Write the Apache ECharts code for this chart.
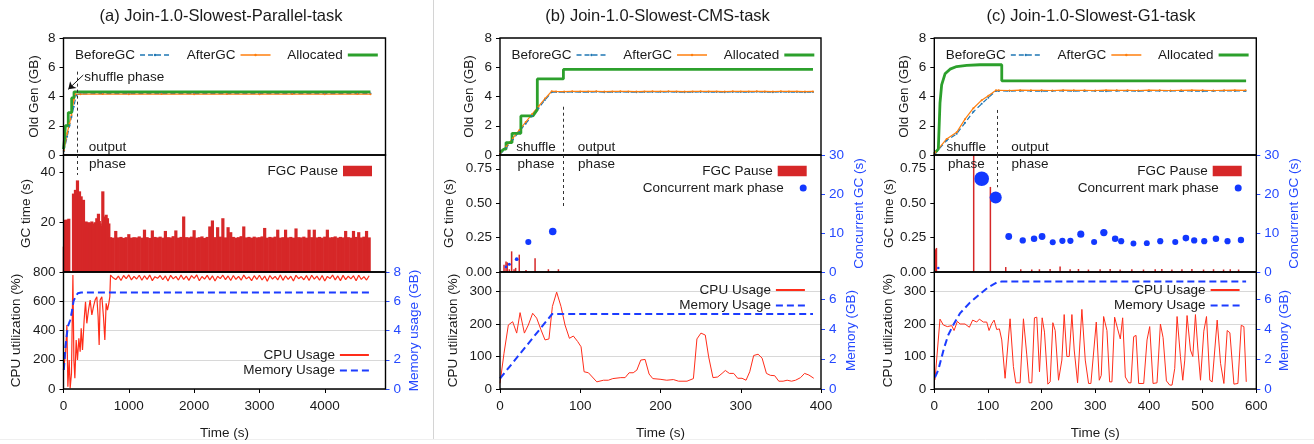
<!DOCTYPE html>
<html><head><meta charset="utf-8">
<script src="https://cdn.jsdelivr.net/npm/echarts@6/dist/echarts.min.js"></script>
<style>html,body{margin:0;padding:0;background:#fff}#c{width:1314px;height:444px}</style>
</head><body><div id="c"></div>
<script>
// ---------------- DATA ----------------
const TITLES = ['(a) Join-1.0-Slowest-Parallel-task', '(b) Join-1.0-Slowest-CMS-task', '(c) Join-1.0-Slowest-G1-task'];

// Panel (a) — Parallel
const A_X_TICKS = [0, 1000, 2000, 3000, 4000];
const A_BEFORE_T = [5, 56, 92, 122, 158, 195, 260, 600, 1000, 1500, 2000, 2500, 3000, 3500, 4000, 4500, 4700];
const A_BEFORE_V = [0.25, 1.25, 2.0, 2.6, 3.3, 4.1, 4.18, 4.2, 4.19, 4.2, 4.2, 4.19, 4.2, 4.2, 4.19, 4.2, 4.2];
const A_AFTER_T = [5, 56, 92, 122, 158, 184, 260, 600, 1000, 1500, 2000, 2500, 3000, 3500, 4000, 4500, 4700];
const A_AFTER_V = [0.3, 1.48, 2.17, 2.74, 3.77, 4.15, 4.16, 4.17, 4.16, 4.17, 4.16, 4.17, 4.16, 4.17, 4.16, 4.17, 4.16];
const A_ALLOC_T = [0, 20, 28, 28, 73, 73, 125, 125, 161, 161, 4700];
const A_ALLOC_V = [0.4, 1.3, 1.3, 2.0, 2.0, 2.9, 2.9, 3.9, 3.9, 4.32, 4.32];
const A_FGC_EARLY_T = [5, 26, 56, 81, 153, 183, 214, 245, 270, 306, 331, 346, 362, 382, 395, 408, 420, 433, 446, 459, 472, 484, 497, 510, 522, 535, 548, 561, 580, 602, 622, 640, 653, 673, 694];
const A_FGC_EARLY_V = [10.2, 21, 21, 21.4, 31.5, 33, 36.8, 32.4, 30.4, 29, 17, 20.3, 18, 20, 17.5, 19.7, 19, 20.3, 18.5, 19.5, 17, 20, 19.5, 21.6, 18, 23.4, 20.5, 19.5, 18.5, 32.4, 22.3, 20, 23, 21.6, 19.5];
const A_FGC_LATE_START = 720, A_FGC_LATE_STEP = 40;
const A_FGC_LATE_V = [14.0,13.8,16.5,13.9,14.1,13.7,14.0,15.2,13.8,14.0, 13.9,14.3,13.8,17.0,14.0,13.7,16.7,14.1,13.9,14.2,
  13.8,16.5,14.0,13.9,14.4,16.7,13.8,14.1,22.3,14.0, 13.9,14.2,16.8,13.8,14.0,14.3,13.7,14.1,18.3,20.7,
  14.0,18.0,14.2,21.6,13.9,18.0,16.0,14.1,13.8,14.0, 14.4,18.3,13.9,14.1,13.8,14.2,13.9,14.0,14.3,17.7,
  13.8,14.1,13.9,14.2,17.0,13.8,14.0,17.0,13.9,14.1, 13.8,17.5,14.0,13.9,14.2,13.8,17.0,14.0,17.0,13.9,
  14.1,13.8,14.2,17.0,13.9,14.0,14.3,13.8,14.1,13.9, 16.5,14.0,13.8,16.5,14.1,16.0,13.9,14.2,16.5,13.9];
const A_CPU_EARLY_T = [0, 11, 31, 52, 67, 87, 102, 122, 144, 159, 174, 194, 214, 235, 255, 271, 291, 316, 337, 357, 383, 408, 434, 459, 484, 510, 530, 546, 561, 587, 612, 633, 653, 673, 694, 709];
const A_CPU_EARLY_V = [130, 130, 244, 437, 16, 198, 5, 107, 779, 198, 73, 335, 198, 346, 255, 415, 267, 472, 597, 449, 540, 608, 506, 563, 608, 631, 494, 301, 608, 631, 494, 335, 586, 540, 586, 631];
const A_CPU_LATE_START = 720, A_CPU_LATE_STEP = 40;
const A_CPU_LATE_V = [779,760,748,772,742,776,755,780,746,770, 752,778,744,774,750,779,741,768,757,776,
  747,773,738,777,753,770,745,779,749,772, 743,775,756,780,740,769,751,777,746,774,
  739,771,755,778,748,773,742,776,750,770, 744,779,753,767,741,775,749,778,745,772,
  737,776,752,770,746,779,743,774,750,771, 739,777,754,769,747,775,742,778,751,772,
  744,776,738,770,755,779,746,773,741,777, 748,771,753,775,740,778,749,769,745,774];
const A_MEM_T = [5, 30, 66, 102, 133, 153, 183, 219, 270, 4700];
const A_MEM_V = [1.3, 2.9, 4.27, 4.7, 5.4, 6.0, 6.3, 6.55, 6.6, 6.6];

// Panel (b) — CMS
const B_X_TICKS = [0, 100, 200, 300, 400];
const B_RAMP_T = [0, 8, 16, 24, 32, 40, 48, 56, 64.5];
const B_BEFORE_RAMP = [0.02, 0.52, 1.06, 1.6, 2.14, 2.68, 3.2, 3.76, 4.3];
const B_AFTER_RAMP = [0.08, 0.6, 1.15, 1.7, 2.25, 2.8, 3.32, 3.86, 4.36];
const B_FLAT_START = 70, B_FLAT_STEP = 10;
const B_BEFORE_FLAT = [4.30,4.29,4.31,4.30,4.30,4.32,4.29,4.30,4.31,4.30,4.29,4.30,4.31,4.30,4.32,4.30,4.29,4.30,4.31,4.30,4.30,4.29,4.31,4.30,4.30,4.32,4.30,4.29,4.31,4.30,4.30,4.29,4.30];
const B_AFTER_FLAT = [4.35,4.34,4.36,4.35,4.35,4.36,4.34,4.35,4.36,4.35,4.34,4.35,4.36,4.35,4.36,4.35,4.34,4.35,4.36,4.35,4.35,4.34,4.36,4.35,4.35,4.36,4.35,4.34,4.36,4.35,4.35,4.34,4.35];
const B_ALLOC_T = [0, 5, 7.5, 7.5, 15, 15, 26, 26, 41, 46.5, 46.5, 79, 79, 390];
const B_ALLOC_V = [0.2, 0.4, 0.4, 0.85, 0.85, 1.48, 1.48, 2.67, 2.67, 3.1, 5.2, 5.2, 5.85, 5.85];
const B_FGC_T = [5, 7.5, 9.1, 11.6, 14.5, 17.5, 19.5, 24, 32.4, 43.7, 60.3, 72.8];
const B_FGC_V = [0.053, 0.077, 0.07, 0.02, 0.15, 0.02, 0.03, 0.126, 0.015, 0.10, 0.02, 0.02];
const B_CONC_T = [7.5, 11.6, 20.8, 35.3, 65.7];
const B_CONC_V = [1.3, 2.0, 3.3, 7.7, 10.4];
const B_CPU_T = [0,5,10.4,15.8,20.8,25,30.4,35.3,40.7,45.7,51.1,56.1,61,65.3,70.6,76,81,86.5,91.4,96.8,101,104.8,110.2,120.6,129,135,140.5,150.5,155.9,160.9,166,170.5,175.4,180.8,185.8,190.4,199.5,207.8,216,222.6,233,241,245.4,250.4,255.8,260,265.4,271.3,276.7,280.8,285.8,291.2,296.2,301.6,306.6,311.2,316.1,321.6,326.6,332,337,342.3,347.4,352.8,357.8,363.3,368.3,374.5,379.5,384.9,391];
const B_CPU_V = [17.5,110,197,207,172,235,172,197,233,218,182,151,154,254,298,254,197,156,163,146,130,53,50,22,27,27,32,35,35,50,50,58,89,91,46,32,30,27,29,24,24,32,154,172,166,99,35,37,48,57,48,48,33,33,27,53,103,107,95,48,42,41,24,24,27,24,27,35,48,43,33];
const B_MEM_T = [0, 65, 390];
const B_MEM_V = [0.7, 5.0, 5.0];

// Panel (c) — G1
const C_X_TICKS = [0, 100, 200, 300, 400, 500, 600];
const C_RAMP_T = [0, 2, 23, 41.7, 57.2, 72.8, 88.3, 100.7, 115];
const C_BEFORE_RAMP = [0.05, 0.13, 1.0, 1.45, 2.2, 2.95, 3.5, 3.92, 4.38];
const C_AFTER_RAMP = [0.08, 0.18, 1.1, 1.55, 2.45, 3.2, 3.75, 4.05, 4.42];
const C_FLAT_START = 120, C_FLAT_STEP = 20;
const C_BEFORE_FLAT = [4.38,4.37,4.39,4.38,4.36,4.38,4.39,4.37,4.38,4.38,4.36,4.39,4.38,4.37,4.38,4.39,4.38,4.37,4.38,4.36,4.38,4.39,4.38,4.37];
const C_AFTER_FLAT = [4.42,4.41,4.43,4.42,4.42,4.41,4.43,4.42,4.42,4.41,4.43,4.42,4.42,4.41,4.43,4.42,4.41,4.42,4.43,4.42,4.41,4.42,4.43,4.42];
const C_ALLOC_T = [0, 7.5, 10.6, 13.7, 20, 29.3, 41.7, 60.4, 85, 125.7, 125.7, 581];
const C_ALLOC_V = [0.1, 0.4, 3.54, 4.8, 5.55, 5.87, 6.05, 6.13, 6.17, 6.17, 5.07, 5.07];
const C_FGC_T = [2, 4, 73.4, 104.5, 133.1, 161.1, 181.6, 195.9, 215.8, 234.4, 253.1, 268.6, 287.2, 309, 327.7, 346.3, 368.1, 389.8, 411.6, 424, 442.7, 461.4, 480, 501.7, 520.3, 539, 551.5, 567];
const C_FGC_V = [0.165, 0.175, 0.85, 0.618, 0.036, 0.02, 0.018, 0.02, 0.022, 0.04, 0.02, 0.022, 0.018, 0.02, 0.022, 0.018, 0.02, 0.018, 0.02, 0.022, 0.018, 0.02, 0.022, 0.018, 0.02, 0.018, 0.02, 0.018];
const C_CONC_T = [7.5, 88.3, 114.4, 138.7, 164.8, 185.9, 200.8, 220.7, 238.7, 253.6, 273, 297.8, 315.9, 337, 348.2, 371.1, 396, 421, 449, 468.8, 484.3, 503, 524.8, 546.4, 571.4];
const C_CONC_V = [1.0, 23.9, 19.1, 9.1, 8.1, 8.5, 9.1, 7.6, 8.0, 8.0, 9.7, 7.7, 10.1, 8.5, 7.9, 7.3, 7.4, 7.9, 7.7, 8.7, 8.1, 7.9, 8.5, 7.9, 8.2];
const C_CPU_T = [1.3,10.6,16.8,24.3,32.4,36.8,43,48,57.2,65.3,71.5,79,84,91.4,97.7,102,107,111.4,116.3,121.3,125.7,131.9,141.2,147.4,151.8,159.9,166.1,172.3,176.7,181.7,186.6,191,196,201,205.3,211.6,215.9,220.9,225.2,231.5,237.7,242,247,251.4,256.4,260.7,267,275,281.3,287.5,291.8,301.8,307.4,311.1,315.5,321.7,326.7,331,336,341.6,346.6,351,356,362.2,366.5,371.5,375.9,380.8,390.2,396.4,401.4,407.6,415,421.3,426.3,432.5,438.7,443,448,452.4,458.6,463,466.7,471,477.3,481.7,486.6,491,496,502.2,507.2,513.4,517.8,527.1,533.4,539.6,545.8,550.8,558.3,565.7,571.9,576.9,581.3];
const C_CPU_V = [28,215,197,192,195,180,208,200,200,190,212,206,215,206,206,180,201,212,183,185,151,33,216,69,19,19,216,105,19,19,219,221,53,219,175,15,22,204,180,27,89,229,100,100,229,120,19,245,89,17,17,206,27,42,223,180,22,22,221,185,154,219,37,19,19,161,165,17,17,151,192,17,19,200,158,25,12,12,63,223,100,27,89,226,120,100,229,126,27,178,223,27,22,212,79,17,180,173,15,17,196,192,22];
const C_MEM_T = [1.3, 7.5, 18, 26, 35.3, 47.7, 66.4, 85, 100.6, 116.1, 125.4, 581];
const C_MEM_V = [0.78, 1.27, 2.71, 3.6, 4.27, 5.04, 5.76, 6.33, 6.78, 7.09, 7.16, 7.16];

// ---------------- HELPERS ----------------
const zip = (ts, vs) => ts.map((t, i) => [t, vs[i]]);
const seq = (t0, step, vs) => vs.map((v, i) => [t0 + i * step, v]);

const FONT = 'Liberation Sans, Arial, Helvetica, sans-serif';
const COL = { before: '#1f77b4', after: '#ff7f0e', alloc: '#2ca02c', fgc: '#d62728', conc: '#1238ff',
  cpu: '#ff2d1a', mem: '#1c3cff', blue: '#2448ff', txt: '#1a1a1a', grid: '#d8d8d8' };
const FS = 13.5;

const PANELS = [
  { left: 63.5, width: 322, xmax: 4930, xticks: A_X_TICKS },
  { left: 500, width: 321, xmax: 400, xticks: B_X_TICKS },
  { left: 934.3, width: 322, xmax: 600, xticks: C_X_TICKS }
];
const ROWS = [38, 155, 272];
const RH = 117;

const grids = [], xAxes = [], yAxes = [];
PANELS.forEach((p, pi) => {
  ROWS.forEach((top, ri) => {
    grids.push({ left: p.left, top: top, width: p.width, height: RH, show: true,
      borderColor: '#000', borderWidth: 1.4, backgroundColor: 'transparent', z: 5 });
    const bottom = ri === 2;
    xAxes.push({ type: 'value', gridIndex: pi * 3 + ri, min: 0, max: p.xmax,
      axisLine: { show: false },
      axisTick: { show: bottom, length: 4, customValues: p.xticks, lineStyle: { color: '#000' } },
      axisLabel: { show: bottom, customValues: p.xticks, margin: 10, fontSize: FS, color: COL.txt, fontFamily: FONT,
        formatter: v => String(v) },
      splitLine: { show: false },
      name: bottom ? 'Time (s)' : '', nameLocation: 'middle', nameGap: 37,
      nameTextStyle: { fontSize: FS, color: COL.txt, fontFamily: FONT } });
  });
});

function yLeft(grid, o) {
  return Object.assign({ type: 'value', gridIndex: grid, min: 0, position: 'left',
    axisLine: { show: false },
    axisTick: { show: true, length: 4, lineStyle: { color: '#000' } },
    axisLabel: { fontSize: FS, color: COL.txt, fontFamily: FONT, margin: 8 },
    splitLine: { show: false },
    nameLocation: 'middle', nameTextStyle: { fontSize: FS, color: COL.txt, fontFamily: FONT } }, o);
}
function yRight(grid, o) {
  return Object.assign({ type: 'value', gridIndex: grid, min: 0, position: 'right',
    axisLine: { show: false },
    axisTick: { show: true, length: 4, lineStyle: { color: COL.blue } },
    axisLabel: { fontSize: FS, color: COL.blue, fontFamily: FONT, margin: 8 },
    splitLine: { show: false },
    nameLocation: 'middle', nameTextStyle: { fontSize: FS, color: COL.blue, fontFamily: FONT } }, o);
}
const GC_TICKS = [0, 0.25, 0.5, 0.75];
const CPU_TICKS = [0, 100, 200, 300];
const MEM_TICKS = [0, 2, 4, 6];
const gridSplit = { show: true, lineStyle: { color: COL.grid, width: 1 } };
yAxes.push(yLeft(0, { max: 8, interval: 2, name: 'Old Gen (GB)', nameGap: 22 }));
yAxes.push(yLeft(1, { max: 47, interval: 20, name: 'GC time (s)', nameGap: 30,
  axisLabel: { fontSize: FS, color: COL.txt, fontFamily: FONT, margin: 8, customValues: [20, 40] },
  axisTick: { show: true, length: 4, customValues: [20, 40], lineStyle: { color: '#000' } } }));
yAxes.push(yLeft(2, { max: 800, interval: 200, name: 'CPU utilization (%)', nameGap: 40, splitLine: gridSplit }));
yAxes.push(yLeft(3, { max: 8, interval: 2, name: 'Old Gen (GB)', nameGap: 24 }));
yAxes.push(yLeft(4, { max: 0.85, interval: 0.25, name: 'GC time (s)', nameGap: 44,
  axisLabel: { fontSize: FS, color: COL.txt, fontFamily: FONT, margin: 8, customValues: GC_TICKS, formatter: v => v.toFixed(2) },
  axisTick: { show: true, length: 4, customValues: GC_TICKS, lineStyle: { color: '#000' } } }));
yAxes.push(yLeft(5, { max: 360, interval: 100, name: 'CPU utilization (%)', nameGap: 40, splitLine: gridSplit,
  axisLabel: { fontSize: FS, color: COL.txt, fontFamily: FONT, margin: 8, customValues: CPU_TICKS },
  axisTick: { show: true, length: 4, customValues: CPU_TICKS, lineStyle: { color: '#000' } } }));
yAxes.push(yLeft(6, { max: 8, interval: 2, name: 'Old Gen (GB)', nameGap: 23 }));
yAxes.push(yLeft(7, { max: 0.85, interval: 0.25, name: 'GC time (s)', nameGap: 38,
  axisLabel: { fontSize: FS, color: COL.txt, fontFamily: FONT, margin: 8, customValues: GC_TICKS, formatter: v => v.toFixed(2) },
  axisTick: { show: true, length: 4, customValues: GC_TICKS, lineStyle: { color: '#000' } } }));
yAxes.push(yLeft(8, { max: 360, interval: 100, name: 'CPU utilization (%)', nameGap: 39, splitLine: gridSplit,
  axisLabel: { fontSize: FS, color: COL.txt, fontFamily: FONT, margin: 8, customValues: CPU_TICKS },
  axisTick: { show: true, length: 4, customValues: CPU_TICKS, lineStyle: { color: '#000' } } }));
yAxes.push(yRight(2, { max: 8, interval: 2, name: 'Memory usage (GB)', nameGap: 22 }));
yAxes.push(yRight(4, { max: 30, interval: 10, name: 'Concurrent GC (s)', nameGap: 31 }));
yAxes.push(yRight(5, { max: 7.8, interval: 2, name: 'Memory (GB)', nameGap: 23,
  axisLabel: { fontSize: FS, color: COL.blue, fontFamily: FONT, margin: 8, customValues: MEM_TICKS },
  axisTick: { show: true, length: 4, customValues: MEM_TICKS, lineStyle: { color: COL.blue } } }));
yAxes.push(yRight(7, { max: 30, interval: 10, name: 'Concurrent GC (s)', nameGap: 31 }));
yAxes.push(yRight(8, { max: 7.8, interval: 2, name: 'Memory (GB)', nameGap: 21,
  axisLabel: { fontSize: FS, color: COL.blue, fontFamily: FONT, margin: 8, customValues: MEM_TICKS },
  axisTick: { show: true, length: 4, customValues: MEM_TICKS, lineStyle: { color: COL.blue } } }));

// ---------------- SERIES ----------------
const phaseStyle = { color: '#333', width: 1, type: [3, 3] };
function vline(t, y0, y1) {
  return { silent: true, symbol: 'none', label: { show: false }, lineStyle: phaseStyle,
    data: [[{ coord: [t, y0] }, { coord: [t, y1] }]] };
}
function oldGen(g, before, after, alloc, mark) {
  return [
    { name: 'BeforeGC', type: 'line', xAxisIndex: g, yAxisIndex: g, data: before,
      symbol: 'circle', symbolSize: 2, showSymbol: true,
      lineStyle: { color: COL.before, width: 1.2, type: [5, 3] }, itemStyle: { color: COL.before } },
    { name: 'AfterGC', type: 'line', xAxisIndex: g, yAxisIndex: g, data: after,
      symbol: 'circle', symbolSize: 2, showSymbol: true,
      lineStyle: { color: COL.after, width: 1.2 }, itemStyle: { color: COL.after } },
    { name: 'Allocated', type: 'line', xAxisIndex: g, yAxisIndex: g, data: alloc,
      symbol: 'none', lineStyle: { color: COL.alloc, width: 2.8 }, itemStyle: { color: COL.alloc },
      markLine: mark }
  ];
}
function fgc(g, data, bw, mark) {
  return { name: 'FGC Pause', type: 'bar', xAxisIndex: g, yAxisIndex: g, data: data,
    barWidth: bw, itemStyle: { color: COL.fgc }, markLine: mark, large: false };
}
function conc(g, yi, data) {
  return { name: 'Concurrent mark phase', type: 'scatter', xAxisIndex: g, yAxisIndex: yi, data: data,
    symbol: 'circle', symbolSize: v => 2 + 0.53 * v[1], itemStyle: { color: COL.conc, opacity: 1 }, z: 4 };
}
function cpuMem(g, yi, cpu, mem, cpuW) {
  return [
    { name: 'CPU Usage', type: 'line', xAxisIndex: g, yAxisIndex: g, data: cpu, symbol: 'none',
      lineStyle: { color: COL.cpu, width: cpuW || 1 }, itemStyle: { color: COL.cpu } },
    { name: 'Memory Usage', type: 'line', xAxisIndex: g, yAxisIndex: yi, data: mem, symbol: 'none',
      lineStyle: { color: COL.mem, width: 2, type: [7, 4] }, itemStyle: { color: COL.mem } }
  ];
}

const aArrow = { silent: true, symbol: ['none', 'arrow'], symbolSize: 7, label: { show: false },
  lineStyle: { color: '#111', width: 1, type: 'solid' },
  data: [[{ coord: [303, 5.47] }, { coord: [73, 4.49] }]] };
const aTopMark = { silent: true, symbol: 'none', label: { show: false }, lineStyle: phaseStyle,
  data: [[{ coord: [211, 5.7] }, { coord: [211, 0] }]] };

const series = [
  ...oldGen(0, zip(A_BEFORE_T, A_BEFORE_V), zip(A_AFTER_T, A_AFTER_V), zip(A_ALLOC_T, A_ALLOC_V), aTopMark),
  { type: 'line', xAxisIndex: 0, yAxisIndex: 0, data: [], markLine: aArrow, silent: true },
  fgc(1, zip(A_FGC_EARLY_T, A_FGC_EARLY_V).concat(seq(A_FGC_LATE_START, A_FGC_LATE_STEP, A_FGC_LATE_V)), 3.2, vline(211, 47, 39)),
  ...cpuMem(2, 9, zip(A_CPU_EARLY_T, A_CPU_EARLY_V).concat(seq(A_CPU_LATE_START, A_CPU_LATE_STEP, A_CPU_LATE_V)), zip(A_MEM_T, A_MEM_V), 1.2),

  ...oldGen(3, zip(B_RAMP_T, B_BEFORE_RAMP).concat(seq(B_FLAT_START, B_FLAT_STEP, B_BEFORE_FLAT)),
    zip(B_RAMP_T, B_AFTER_RAMP).concat(seq(B_FLAT_START, B_FLAT_STEP, B_AFTER_FLAT)),
    zip(B_ALLOC_T, B_ALLOC_V), vline(79, 3.3, 0)),
  fgc(4, zip(B_FGC_T, B_FGC_V), 1.5, vline(79, 0.85, 0.477)),
  conc(4, 10, zip(B_CONC_T, B_CONC_V)),
  ...cpuMem(5, 11, zip(B_CPU_T, B_CPU_V), zip(B_MEM_T, B_MEM_V)),

  ...oldGen(6, zip(C_RAMP_T, C_BEFORE_RAMP).concat(seq(C_FLAT_START, C_FLAT_STEP, C_BEFORE_FLAT)),
    zip(C_RAMP_T, C_AFTER_RAMP).concat(seq(C_FLAT_START, C_FLAT_STEP, C_AFTER_FLAT)),
    zip(C_ALLOC_T, C_ALLOC_V), vline(116.4, 3.08, 0)),
  fgc(7, zip(C_FGC_T, C_FGC_V), 1.5, vline(116.4, 0.85, 0.615)),
  conc(7, 12, zip(C_CONC_T, C_CONC_V)),
  ...cpuMem(8, 13, zip(C_CPU_T, C_CPU_V), zip(C_MEM_T, C_MEM_V))
];

// ---------------- LEGENDS ----------------
const legText = { fontSize: FS, color: COL.txt, fontFamily: FONT };
const legends = [];
PANELS.forEach((p, pi) => {
  legends.push({ left: p.left + 6.5, top: 43, orient: 'horizontal', align: 'right',
    itemWidth: 30, itemHeight: 3, itemGap: 16, textStyle: legText, selectedMode: false,
    lineStyle: { width: 1.5 },
    data: [{ name: 'BeforeGC' }, { name: 'AfterGC' },
      { name: 'Allocated', lineStyle: { width: 3 }, itemStyle: { opacity: 0 } }] });
});
const rightEdges = [377, 811.7, 1246.7];
rightEdges.forEach((re, pi) => {
  legends.push({ right: 1314 - re, top: 159, orient: 'vertical', align: 'right', icon: 'rect',
    itemWidth: 29, itemHeight: 10.5, textStyle: legText, selectedMode: false, data: ['FGC Pause'] });
  if (pi > 0) legends.push({ right: 1314 - re, top: 176, orient: 'vertical', align: 'right', icon: 'circle',
    itemWidth: 29, itemHeight: 7, textStyle: legText, selectedMode: false, data: ['Concurrent mark phase'] });
});
const botTops = [343, 278, 278];
const botRights = [375, 811, 1245.7];
botTops.forEach((t, pi) => {
  legends.push({ right: 1314 - botRights[pi], top: t, orient: 'vertical', align: 'right',
    itemWidth: 29, itemHeight: 4, itemGap: 1.5, textStyle: legText, selectedMode: false,
    itemStyle: { opacity: 0 },
    data: ['CPU Usage', { name: 'Memory Usage', lineStyle: { width: 2.2 } }] });
});

// ---------------- ANNOTATIONS ----------------
const annStyle = { fontSize: FS, fill: COL.txt, fontFamily: FONT };
function txt(x, y, s, align) {
  return { type: 'text', x: x, y: y, z: 20, silent: true,
    style: Object.assign({ text: s, textAlign: align || 'center', textVerticalAlign: 'middle' }, annStyle) };
}
const graphics = [
  { type: 'line', shape: { x1: 433.5, y1: 0, x2: 433.5, y2: 439 }, style: { stroke: '#d4d4d4', lineWidth: 1 }, silent: true },
  { type: 'line', shape: { x1: 0, y1: 439.5, x2: 1314, y2: 439.5 }, style: { stroke: '#efefef', lineWidth: 1 }, silent: true },
  txt(84.3, 77, 'shuffle phase', 'left'),
  txt(107.5, 147, 'output'), txt(107.5, 164, 'phase'),
  txt(536, 147, 'shuffle'), txt(536, 164, 'phase'),
  txt(596.5, 147, 'output'), txt(596.5, 164, 'phase'),
  txt(966.3, 147, 'shuffle'), txt(966.3, 164, 'phase'),
  txt(1030, 147, 'output'), txt(1030, 164, 'phase')
];

const titleCenters = [216, 652.5, 1086];
const titles = TITLES.map((t, i) => ({ text: t, left: titleCenters[i], top: 3, textAlign: 'center',
  textStyle: { fontSize: 16.5, fontWeight: 'normal', color: COL.txt, fontFamily: FONT } }));

const chart = echarts.init(document.getElementById('c'), null, { renderer: 'canvas' });
chart.setOption({
  animation: false,
  backgroundColor: '#fff',
  textStyle: { fontFamily: FONT },
  title: titles,
  grid: grids, xAxis: xAxes, yAxis: yAxes,
  legend: legends,
  series: series,
  graphic: graphics
});
</script></body></html>
